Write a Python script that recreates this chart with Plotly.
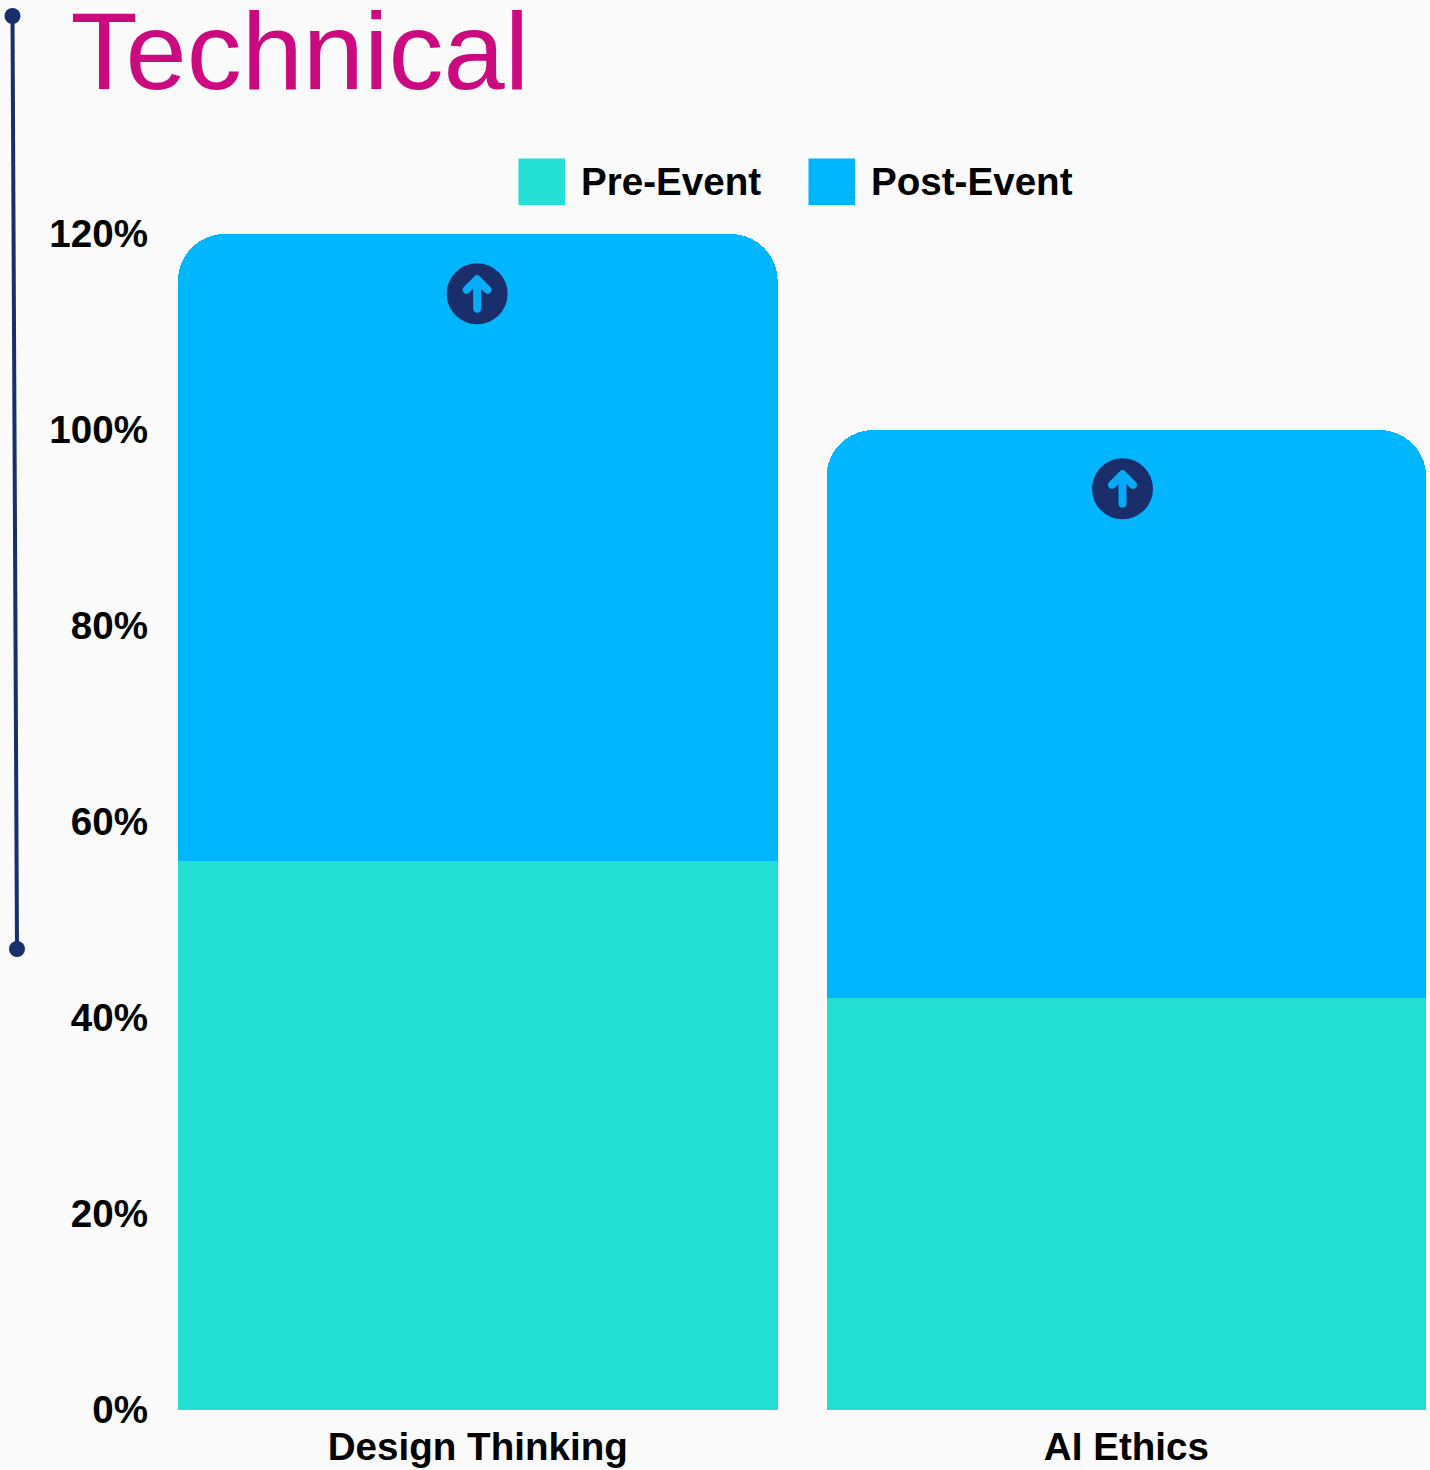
import plotly.graph_objects as go

categories = ["Design Thinking", "AI Ethics"]
pre_event = [56, 42]
post_event = [64, 58]
series_names = ["Pre-Event", "Post-Event"]
y_ticks = [0, 20, 40, 60, 80, 100, 120]
y_tick_labels = ["0%", "20%", "40%", "60%", "80%", "100%", "120%"]
icon_levels = [113.9, 94]
icon_offsets = [-0.001, -0.006]

TEAL = "#23DED3"
BLUE = "#00B7FF"
NAVY = "#1A2E6B"
BG = "#FAFAFA"
FONT = "Liberation Sans"
W, H = 1430, 1470
L, R, T, B = 154, 0, 234, 60
STEP = 648.6

ARROW = ("M -4,-15 L -4,4.84 L -7.67,1.17 C -11.44,-2.6 -17.1,3.06 -13.33,6.83 "
         "L -2.83,17.33 Q 0,20.17 2.83,17.33 L 13.33,6.83 C 17.1,3.06 11.44,-2.6 7.67,1.17 "
         "L 4,4.84 L 4,-15 C 4,-20.33 -4,-20.33 -4,-15 Z")

fig = go.Figure()
fig.add_bar(x=categories, y=pre_event, name=series_names[0], marker_color=TEAL, marker_line_width=0)
fig.add_bar(x=categories, y=post_event, name=series_names[1], marker_color=BLUE, marker_line_width=0)

def px(x):
    return (x - L) / (W - L - R)

def py(y):
    return 1 - (y - T) / (H - T - B)

shapes = []
for i, level in enumerate(icon_levels):
    anchor = dict(xref="x", yref="y", xsizemode="pixel", ysizemode="pixel",
                  xanchor=i + icon_offsets[i], yanchor=level, layer="above")
    shapes.append(dict(type="circle", x0=-30.5, x1=30.5, y0=-30.5, y1=30.5,
                       fillcolor=NAVY, line_width=0, **anchor))
    shapes.append(dict(type="path", path=ARROW, fillcolor="#06ACF8", line_width=0, **anchor))

# decorative rule at the left
shapes.append(dict(type="line", xref="paper", yref="paper", x0=px(12.5), x1=px(17), y0=py(16), y1=py(949),
                   line=dict(color=NAVY, width=4), layer="above"))
for cx, cy in [(12.5, 16), (17, 949)]:
    shapes.append(dict(type="circle", xref="paper", yref="paper", x0=px(cx - 8), x1=px(cx + 8),
                       y0=py(cy - 8), y1=py(cy + 8), fillcolor=NAVY, line_width=0, layer="above"))

# legend
annotations = []
for name, color, sx, tx in [(series_names[0], TEAL, 518.5, 579.5), (series_names[1], BLUE, 808.5, 869.5)]:
    shapes.append(dict(type="rect", xref="paper", yref="paper", x0=px(sx), x1=px(sx + 46.5),
                       y0=py(158.5), y1=py(205), fillcolor=color, line_width=0))
    annotations.append(dict(xref="paper", yref="paper", x=px(tx), y=py(181), text=f"<b>{name}</b>",
                            showarrow=False, xanchor="left", yanchor="middle", xshift=-1,
                            font=dict(family=FONT, size=38.6, color="#000000")))

fig.update_layout(
    width=W, height=H, margin=dict(l=L, r=R, t=T, b=B, pad=0),
    paper_bgcolor=BG, plot_bgcolor=BG,
    barmode="stack", bargap=0.0754, barcornerradius=47,
    showlegend=False,
    title=dict(text="Technical", x=70.5 / W, xref="container", xanchor="left",
               y=1 - 88.5 / H, yref="container", yanchor="bottom",
               font=dict(family=FONT, size=110, color="#CC0A80")),
    shapes=shapes, annotations=annotations,
    xaxis=dict(type="category", range=[-0.4992, -0.4992 + (W - L) / STEP], showgrid=False, zeroline=False,
               showline=False, ticks="", ticklabelstandoff=10,
               tickfont=dict(family=FONT, size=38.6, color="#000000", weight="bold")),
    yaxis=dict(range=[0, 120], tickvals=y_ticks, ticktext=y_tick_labels, showgrid=False, zeroline=False,
               showline=False, ticks="", ticklabelstandoff=5, ticklabelshift=-1,
               tickfont=dict(family=FONT, size=38.6, color="#000000", weight="bold")),
)

fig.write_html("out.html", config=dict(displayModeBar=False),
               post_script=f"document.body.style.margin='0';document.body.style.background='{BG}';")
